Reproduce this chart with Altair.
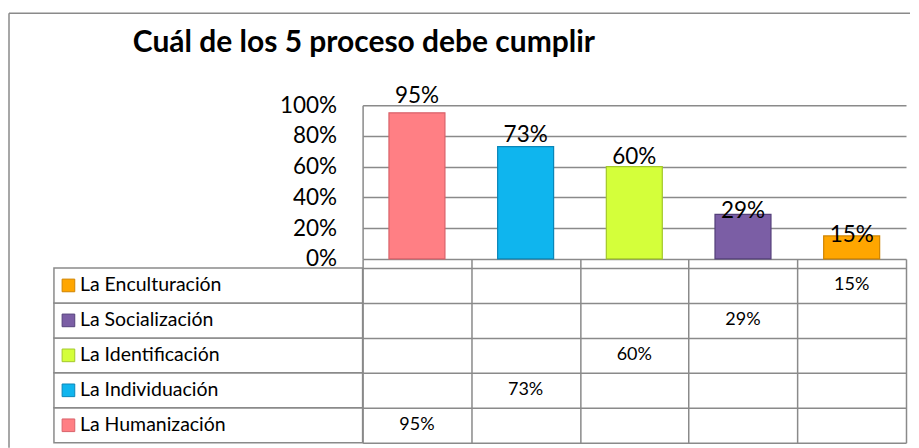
import altair as alt
import pandas as pd

# ---------------- data ----------------
TITLE = "Cuál de los 5 proceso debe cumplir"
SERIES = ["La Humanización", "La Individuación", "La Identificación",
          "La Socialización", "La Enculturación"]
VALUES = [0.95, 0.73, 0.60, 0.29, 0.15]
FILL_COLORS = ["#FF7F84", "#0FB5EE", "#D4FF3A", "#7B5EA5", "#FFA600"]
EDGE_COLORS = ["#D9626A", "#0A86B8", "#A3C82A", "#54407A", "#D08400"]
Y_TICKS = [0, 0.2, 0.4, 0.6, 0.8, 1.0]
ROW_ORDER = SERIES[::-1]

FONT = "Lato"
GRID = "#8a8a8a"
PLOT_W, PLOT_H = 544, 154
LAB_W, TAB_H = 309, 184

df = pd.DataFrame({"serie": SERIES, "valor": VALUES})
title_df = pd.DataFrame({"t": [TITLE]})

fill_scale = alt.Scale(domain=SERIES, range=FILL_COLORS)
edge_scale = alt.Scale(domain=SERIES, range=EDGE_COLORS)
row_scale = alt.Scale(domain=ROW_ORDER, paddingInner=0, paddingOuter=0.1286, align=1)

# ---------------- title cell (top-left) ----------------
title_mark = alt.Chart(title_df).mark_text(
    align="left", baseline="alphabetic", font=FONT, fontSize=30,
    fontWeight="bold", color="black"
).encode(text="t:N", x=alt.value(79), y=alt.value(-53))

frame_left = alt.Chart(title_df).mark_rule(color=GRID, strokeWidth=1.5).encode(
    x=alt.value(-45), y=alt.value(-92), y2=alt.value(343))
frame_top = alt.Chart(title_df).mark_rule(color=GRID, strokeWidth=1.5).encode(
    x=alt.value(-45), x2=alt.value(857), y=alt.value(-92))

title_cell = alt.layer(frame_left, frame_top, title_mark).properties(
    width=LAB_W, height=PLOT_H)

# ---------------- bar panel ----------------
bar_x = alt.X("serie:N", sort=SERIES,
              scale=alt.Scale(domain=SERIES, paddingInner=0.485, paddingOuter=0.2425),
              axis=None)

bars = alt.Chart(df).mark_bar(strokeWidth=1.2).encode(
    x=bar_x,
    y=alt.Y("valor:Q",
            scale=alt.Scale(domain=[0, 1], nice=False, zero=True),
            axis=alt.Axis(values=Y_TICKS, format=".0%", labelFont=FONT,
                          labelFontSize=22.5, labelColor="black", labelPadding=26,
                          ticks=False, tickSize=0, domain=True, domainColor=GRID,
                          domainWidth=1.5, grid=True, gridColor=GRID, gridWidth=1.5,
                          labelOverlap=False, title=None)),
    color=alt.Color("serie:N", scale=fill_scale, legend=None),
    stroke=alt.Stroke("serie:N", scale=edge_scale, legend=None),
)

bar_labels = alt.Chart(df).mark_text(
    font=FONT, fontSize=22.5, baseline="middle", color="black"
).encode(
    x=bar_x,
    y=alt.Y("valor:Q", scale=alt.Scale(domain=[0.014, 0.90], nice=False, zero=False),
            axis=None),
    text=alt.Text("valor:Q", format=".0%"),
)

bar_panel = alt.layer(bars, bar_labels).resolve_scale(y="independent").properties(
    width=PLOT_W, height=PLOT_H)

# ---------------- row labels panel ----------------
lab_base = alt.Chart(df).encode(y=alt.Y("serie:N", scale=row_scale, axis=None))
lab_cells = lab_base.mark_rect(fill="white", stroke=GRID, strokeWidth=1.5).encode(
    x=alt.value(0), x2=alt.value(LAB_W))
lab_swatch = lab_base.mark_square(size=160, strokeWidth=1, opacity=1).encode(
    x=alt.value(14.5),
    color=alt.Color("serie:N", scale=fill_scale, legend=None),
    stroke=alt.Stroke("serie:N", scale=edge_scale, legend=None))
lab_text = lab_base.mark_text(align="left", font=FONT, fontSize=19.5, color="black").encode(
    x=alt.value(26), text="serie:N")
labels_panel = alt.layer(lab_cells, lab_swatch, lab_text).properties(
    width=LAB_W, height=TAB_H)

# ---------------- table panel ----------------
table_panel = alt.Chart(df).mark_text(font=FONT, fontSize=18, color="black").encode(
    x=alt.X("serie:N", scale=alt.Scale(domain=SERIES, paddingInner=0, paddingOuter=0),
            axis=alt.Axis(grid=True, tickBand="extent", labels=False, ticks=False,
                          domain=False, title=None, gridColor=GRID, gridWidth=1.5)),
    y=alt.Y("serie:N", scale=row_scale,
            axis=alt.Axis(grid=True, tickBand="extent", labels=False, ticks=False,
                          domain=False, title=None, gridColor=GRID, gridWidth=1.5)),
    text=alt.Text("valor:Q", format=".0%"),
).properties(width=PLOT_W, height=TAB_H)

chart = alt.concat(
    title_cell, bar_panel, labels_panel, table_panel,
    columns=2, spacing=0, bounds="flush"
).resolve_scale(
    x="independent", y="independent", color="independent", stroke="independent"
).properties(
    padding={"left": 0, "top": 4, "right": 0, "bottom": 0},
    background="white",
).configure_view(stroke=None)

chart.save("out.html", embed_options={"renderer": "svg", "actions": False})
